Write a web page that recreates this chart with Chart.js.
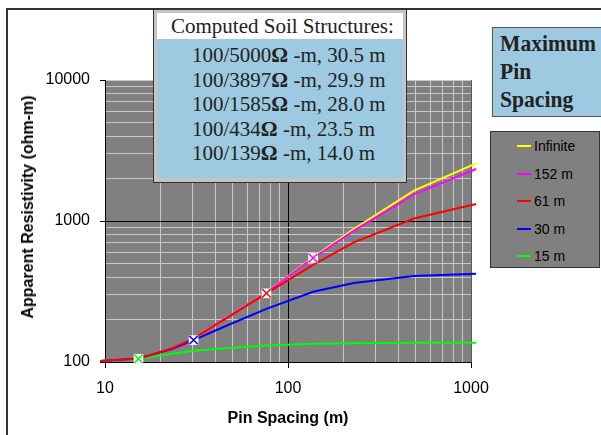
<!DOCTYPE html>
<html>
<head>
<meta charset="utf-8">
<script src="https://cdn.jsdelivr.net/npm/chart.js@4.4.1/dist/chart.umd.min.js"></script>
<style>
  html, body { margin:0; padding:0; background:#fff; }
  #wrap { position:relative; width:601px; height:435px; overflow:hidden; background:#fff; }
  #frame { position:absolute; left:6px; top:8px; width:700px; height:600px; border-left:2px solid #333; border-top:2px solid #333; }
  canvas { position:absolute; left:0; top:0; }
  .axt { position:absolute; font-family:'Liberation Sans', Arial, sans-serif; font-weight:bold; font-size:16px; color:#000; white-space:nowrap; }
  #ytitle { left:28px; top:207px; transform:translate(-50%,-50%) rotate(-90deg); }
  #xtitle { left:288px; top:418px; transform:translate(-50%,-50%); }
  #soil { position:absolute; left:153px; top:9px; width:254px; height:174px; box-sizing:border-box; background:#c4c4c4; border:1px solid #333; }
  #soilHead { position:absolute; left:157px; top:13px; width:246px; height:26px; background:#fff; }
  #soilBody { position:absolute; left:157px; top:39px; width:246px; height:139px; background:#9dcae0; }
  #soilTitle { position:absolute; left:171px; top:14px; font-family:'Liberation Serif', 'Times New Roman', serif; font-size:21px; line-height:24px; color:#222; white-space:nowrap; }
  #soilLines { position:absolute; left:192px; top:43px; font-family:'Liberation Serif', 'Times New Roman', serif; font-size:21px; line-height:24.5px; color:#222; white-space:nowrap; }
  #maxpin { position:absolute; left:492px; top:27px; width:130px; height:90px; box-sizing:border-box; background:#9dcae0; border:1px solid #555; }
  #maxpinText { position:absolute; left:500px; top:30px; font-family:'Liberation Serif', 'Times New Roman', serif; font-weight:bold; font-size:24px; line-height:27.8px; color:#222; transform:scaleX(0.9); transform-origin:0 0; white-space:nowrap; }
  #legend { position:absolute; left:490px; top:131px; width:110px; height:137px; box-sizing:border-box; background:#808080; border:1px solid #333; }
  .lrow { position:absolute; left:26px; height:20px; font-family:'Liberation Sans', Arial, sans-serif; font-size:14px; color:#000; white-space:nowrap; }
  .lrow .sw { position:absolute; left:0; top:9px; width:14px; height:2px; }
  .lrow .tx { position:absolute; left:17px; top:1px; line-height:18px; }
</style>
</head>
<body>
<div id="wrap">
  <div id="frame"></div>
  <canvas id="c" width="601" height="435"></canvas>
  <div id="ytitle" class="axt">Apparent Resistivity (ohm-m)</div>
  <div id="xtitle" class="axt">Pin Spacing (m)</div>
  <div id="soil"></div>
  <div id="soilHead"></div>
  <div id="soilBody"></div>
  <div id="soilTitle">Computed Soil Structures:</div>
  <div id="soilLines"></div>
  <div id="maxpin"></div>
  <div id="maxpinText">Maximum<br>Pin<br>Spacing</div>
  <div id="legend"></div>
</div>
<script>
// ---- data ----
const pinSpacingM = [9.45, 15.24, 22.86, 30.48, 45.72, 76.2, 137.16, 228.6, 487.68, 1066.8];
const rhoInfinite = [101.6, 106, 124, 147, 205, 312, 552, 875, 1640, 2565];
const rho152m    = [101.6, 106, 124, 147, 205, 311, 547, 850, 1545, 2338];
const rho61m     = [101.6, 106, 124, 147, 203, 307, 488, 705, 1042, 1321];
const rho30m     = [101.6, 106, 123, 143, 180, 238, 315, 363, 408, 423];
const rho15m     = [101.6, 105.5, 114, 120, 125, 131, 134.5, 136, 137, 137];
const seriesNames = ['Infinite', '152 m', '61 m', '30 m', '15 m'];
const seriesColors = ['#ffff00', '#ff00ff', '#ff0000', '#0000ff', '#00ff00'];
const seriesOrder = [4, 3, 0, 1, 2];   // drawing layer (0 = top)

const markerX = [15.24, 30.48, 76.2, 137.16];
const markerY = [105.5, 143, 307, 547];
const markerColors = ['#00ff00', '#0000ff', '#ff0000', '#ff00ff'];

const soilLines = [
  ['100/5000', ' -m, 30.5 m'],
  ['100/3897', ' -m, 29.9 m'],
  ['100/1585', ' -m, 28.0 m'],
  ['100/434', ' -m, 23.5 m'],
  ['100/139', ' -m, 14.0 m']
];

const xTickLabels = [10, 100, 1000];
const yTickLabels = [100, 1000, 10000];
const xDecades = [10, 100];
const yDecades = [100, 1000];
const significands = [1, 2, 3, 4, 5, 6, 7, 8, 9];

// ---- build ----
function gridValues(decades, maxV) {
  const out = [];
  decades.forEach(d => significands.forEach(s => out.push(d * s)));
  out.push(maxV);
  return out;
}
const xGrid = gridValues(xDecades, 1000);
const yGrid = gridValues(yDecades, 10000);
const isLabel = (arr, v) => arr.some(a => Math.abs(a - v) < 1e-6 * a);

const seriesValues = [rhoInfinite, rho152m, rho61m, rho30m, rho15m];
const datasets = seriesValues.map((vals, i) => ({
  label: seriesNames[i],
  data: pinSpacingM.map((x, j) => ({ x: x, y: vals[j] })),
  borderColor: seriesColors[i],
  backgroundColor: seriesColors[i],
  borderWidth: 2,
  pointRadius: 0,
  tension: 0,
  clip: false,
  order: seriesOrder[i] + 1
}));
datasets.push({
  label: 'markerBg',
  data: markerX.map((x, j) => ({ x: x, y: markerY[j] })),
  showLine: false,
  pointStyle: 'rect',
  pointRadius: 6.8,
  pointBackgroundColor: '#ffffff',
  pointBorderWidth: 0,
  pointBorderColor: '#ffffff',
  order: -2,
  clip: false
});
datasets.push({
  label: 'markerX',
  data: markerX.map((x, j) => ({ x: x, y: markerY[j] })),
  showLine: false,
  pointStyle: 'crossRot',
  pointRadius: 6,
  pointBorderColor: markerColors,
  pointBorderWidth: 1.5,
  order: -3,
  clip: false
});

const plotBg = {
  id: 'plotBg',
  beforeDraw(chart) {
    const a = chart.chartArea, ctx = chart.ctx;
    ctx.save();
    ctx.fillStyle = '#808080';
    ctx.fillRect(a.left, a.top, a.right - a.left, a.bottom - a.top);
    ctx.restore();
  }
};

const tickFont = { family: "'Liberation Sans', Arial, sans-serif", size: 16 };

new Chart(document.getElementById('c'), {
  type: 'line',
  data: { datasets: datasets },
  plugins: [plotBg],
  options: {
    responsive: false,
    animation: false,
    devicePixelRatio: 1,
    layout: { padding: { left: 0, top: 80, right: 130, bottom: 0 } },
    plugins: { legend: { display: false }, tooltip: { enabled: false } },
    scales: {
      x: {
        type: 'logarithmic',
        position: 'bottom',
        min: 10, max: 1000,
        afterBuildTicks: s => { s.ticks = xGrid.map(v => ({ value: v })); },
        afterFit: s => { s.height = 73; },
        border: { display: true, color: '#000', width: 1 },
        grid: {
          drawOnChartArea: true,
          tickLength: 6,
          lineWidth: 1,
          color: c => {
            const v = c.tick ? c.tick.value : 0;
            if (Math.abs(v - 100) < 1e-6) return '#000';
            if (Math.abs(v - 1000) < 1e-6) return '#5a5a5a';
            return '#c8c8c8';
          },
          tickColor: c => (c.tick && isLabel(xTickLabels, c.tick.value)) ? '#000' : 'rgba(0,0,0,0)'
        },
        ticks: {
          autoSkip: false, maxRotation: 0, minRotation: 0,
          padding: 11, color: '#000', font: tickFont,
          callback: v => isLabel(xTickLabels, v) ? String(v) : ''
        }
      },
      y: {
        type: 'logarithmic',
        position: 'left',
        min: 100, max: 10000,
        afterBuildTicks: s => { s.ticks = yGrid.map(v => ({ value: v })); },
        afterFit: s => { s.width = 105; },
        border: { display: true, color: '#000', width: 1 },
        grid: {
          drawOnChartArea: true,
          tickLength: 5,
          lineWidth: 1,
          color: c => {
            const v = c.tick ? c.tick.value : 0;
            if (Math.abs(v - 1000) < 1e-6) return '#000';
            return '#c8c8c8';
          },
          tickColor: c => (c.tick && isLabel(yTickLabels, c.tick.value)) ? '#000' : 'rgba(0,0,0,0)'
        },
        ticks: {
          autoSkip: false,
          padding: 10, color: '#000', font: tickFont,
          callback: v => isLabel(yTickLabels, v) ? String(v) : ''
        }
      }
    }
  }
});

// text box with computed structures
const sl = document.getElementById('soilLines');
soilLines.forEach(p => {
  const d = document.createElement('div');
  d.appendChild(document.createTextNode(p[0]));
  const b = document.createElement('b');
  b.textContent = 'Ω';
  d.appendChild(b);
  d.appendChild(document.createTextNode(p[1]));
  sl.appendChild(d);
});

// legend built from the series
const lg = document.getElementById('legend');
seriesNames.forEach((n, i) => {
  const r = document.createElement('div');
  r.className = 'lrow';
  r.style.top = (4 + i * 27.5) + 'px';
  r.innerHTML = '<span class="sw" style="background:' + seriesColors[i] + '"></span><span class="tx"></span>';
  r.querySelector('.tx').textContent = n;
  lg.appendChild(r);
});
</script>
</body>
</html>
